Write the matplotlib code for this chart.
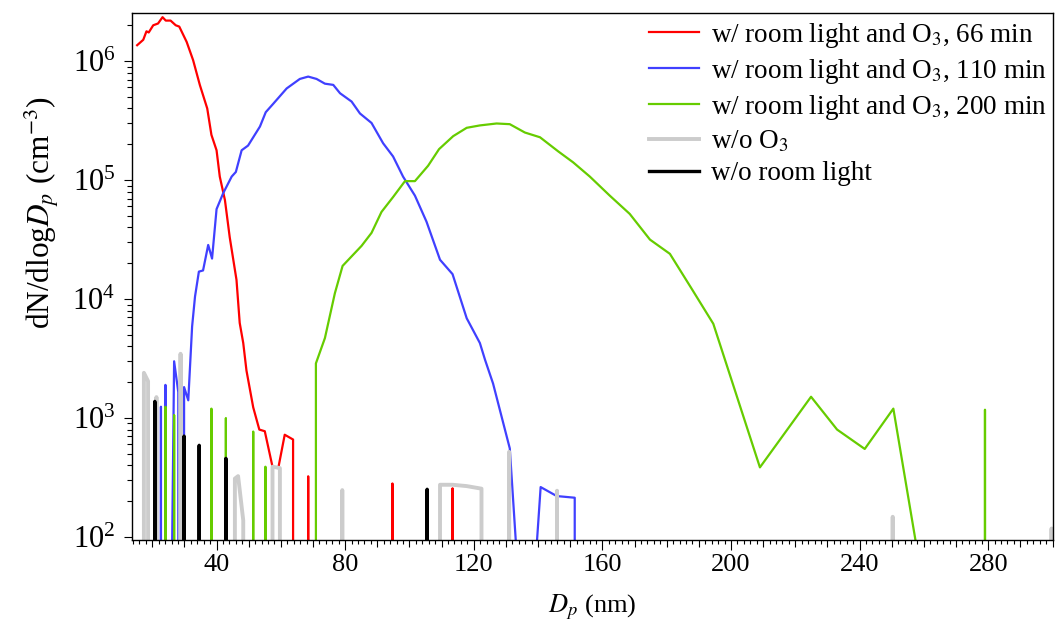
import matplotlib
matplotlib.use("Agg")

import matplotlib.pyplot as plt
import matplotlib.ticker as ticker

plt.rcParams["font.family"] = "Liberation Serif"
plt.rcParams["mathtext.fontset"] = "stix"

# size distributions, dN/dlogDp in cm^-3 (0 = no counts in that bin)
red_dp = [15.3, 17.2, 18.2, 18.9, 20.3, 21.8, 23.2, 24.2, 25.7, 27.3, 28.4, 30.7,
          32.7, 34.8, 37.1, 38.4, 40.0, 41.0, 42.6, 44.1, 46.2, 47.2, 48.3, 49.3,
          51.4, 53.3, 55.0, 57.4, 59.2, 61.2, 63.8, 64.6, 67.6, 68.5, 69.4,
          93.8, 94.7, 95.6, 112.5, 113.4, 114.3]
red_n = [1.36e6, 1.51e6, 1.78e6, 1.74e6, 2.0e6, 2.07e6, 2.34e6, 2.19e6, 2.19e6,
         2.0e6, 1.95e6, 1.45e6, 1.02e6, 6.3e5, 4.0e5, 2.4e5, 1.78e5, 1.07e5,
         6.8e4, 3.3e4, 1.45e4, 6300, 4270, 2510, 1230, 800, 775, 390, 380, 724,
         660, 0, 0, 324, 0, 0, 282, 0, 0, 257, 0]

blue_dp = [22.0, 22.7, 23.4, 24.1, 25.0, 26.0, 26.8, 28.1, 29.0, 29.9, 31.2, 32.4,
           33.3, 34.5, 35.8, 37.4, 38.6, 40.0, 42.1, 44.7, 46.0, 47.8, 49.8, 53.5,
           55.3, 57.6, 61.8, 65.9, 68.5, 71.1, 73.7, 76.3, 78.4, 82.0, 84.6, 88.2,
           91.8, 94.9, 98.0, 101.7, 105.3, 109.5, 113.4, 117.8, 121.9, 123.5,
           126.0, 131.2, 133.1, 139.5, 140.8, 145.8, 151.4, 152.3]
blue_n = [0, 1245, 0, 1900, 0, 30, 3000, 1650, 0, 1820, 1410, 5900, 10500, 17000,
          17400, 28500, 21900, 57000, 78000, 107000, 117000, 178000, 195000,
          282000, 372000, 437000, 589000, 708000, 741000, 708000, 646000, 631000,
          537000, 457000, 363000, 302000, 204000, 158000, 107000, 74000, 44700,
          21400, 16200, 6900, 4270, 3090, 1950, 556, 90, 80, 263, 221, 214, 0]

green_dp = [23.3, 24.1, 24.9, 26.0, 26.8, 27.6, 37.6, 38.4, 39.2, 42.1, 42.9, 43.7,
            50.6, 51.4, 52.2, 54.4, 55.2, 56.0, 70.1, 70.9, 73.7, 76.8, 79.2, 85.1,
            88.2, 91.3, 94.9, 98.6, 101.7, 105.8, 109.2, 113.6, 117.8, 121.9, 127.1,
            131.2, 135.9, 140.6, 146.3, 150.9, 156.1, 162.3, 168.5, 174.8, 181.0,
            187.7, 194.5, 209.0, 224.9, 233.0, 241.6, 250.5, 257.5, 258.5, 278.2,
            279.0, 279.8]
green_n = [0, 1245, 0, 0, 1060, 0, 0, 1200, 0, 0, 1000, 0, 0, 770, 0, 0, 390, 0,
           0, 2880, 4700, 11200, 19000, 28000, 36000, 54000, 72000, 98000, 98000,
           132000, 182000, 234000, 275000, 288000, 299000, 295000, 251000, 229000,
           174000, 141000, 107000, 74000, 52000, 31600, 24000, 12300, 6200, 385,
           1510, 800, 550, 1200, 90, 0, 0, 1175, 0]

gray_dp = [16.6, 17.4, 18.7, 19.5, 20.6, 21.3, 22.0, 28.0, 28.8, 29.6, 45.0, 45.7,
           46.7, 48.3, 49.0, 56.6, 57.4, 59.7, 60.4, 78.3, 79.1, 79.9, 108.8, 109.5,
           113.4, 117.8, 122.4, 123.1, 130.2, 131.0, 131.8, 145.1, 145.9, 146.7,
           249.5, 250.3, 251.1, 298.9, 299.7, 300.5]
gray_n = [0, 2400, 2040, 0, 0, 1500, 0, 0, 3470, 0, 0, 310, 325, 138, 0, 0, 390,
          380, 0, 0, 248, 0, 0, 275, 275, 268, 255, 0, 0, 520, 0, 0, 245, 0, 0,
          148, 0, 0, 118, 0]

black_dp = [20.0, 20.8, 21.6, 29.1, 29.9, 30.7, 33.8, 34.6, 35.4, 42.1, 42.9, 43.7,
            104.7, 105.5, 106.3]
black_n = [0, 1380, 0, 0, 705, 0, 0, 590, 0, 0, 458, 0, 0, 252, 0]

labels = [
    "w/ room light and O$_3$, 66 min",
    "w/ room light and O$_3$, 110 min",
    "w/ room light and O$_3$, 200 min",
    "w/o O$_3$",
    "w/o room light",
]

fig = plt.figure(figsize=(10.56, 6.23), dpi=100)
ax = fig.add_axes([0.125, 0.1332, 0.8726, 0.8467])
ax.set_yscale("log", nonpositive="clip")

ax.plot(red_dp, red_n, color="#ff0000", lw=1.6, label=labels[0])
ax.plot(blue_dp, blue_n, color="#4040ff", lw=1.6, label=labels[1])
ax.plot(green_dp, green_n, color="#66cc00", lw=1.6, label=labels[2])
ax.plot(gray_dp, gray_n, color="#cccccc", lw=2.8, label=labels[3])
ax.plot(black_dp, black_n, color="#000000", lw=2.4, label=labels[4])

ax.set_xlim(13.7, 300.3)
ax.set_ylim(94.4, 2.56e6)

# x ticks: labels every 40, medium ticks every 10, small every 2
ax.xaxis.set_major_locator(ticker.MultipleLocator(10))
ax.xaxis.set_minor_locator(ticker.MultipleLocator(2))
ax.xaxis.set_major_formatter(
    ticker.FuncFormatter(lambda v, p: f"{v:.0f}" if round(v) % 40 == 0 else ""))
ax.yaxis.set_major_locator(ticker.LogLocator(base=10))
ax.yaxis.set_minor_locator(ticker.LogLocator(base=10, subs=range(2, 10)))

ax.tick_params(axis="both", which="both", direction="out", top=False, right=False,
               width=0.8)
ax.tick_params(axis="x", which="major", length=5, pad=5, labelsize=19)
ax.tick_params(axis="x", which="minor", length=3)
ax.tick_params(axis="y", which="major", length=6, pad=6, labelsize=22)
ax.tick_params(axis="y", which="minor", length=3.5)
for loc, tick in zip(ax.xaxis.get_majorticklocs(), ax.xaxis.get_major_ticks()):
    if round(loc) % 40 == 0:
        tick.tick1line.set_markersize(7.5)

for s in ax.spines.values():
    s.set_linewidth(1.0)

ax.set_xlabel("$D_p$ (nm)", fontsize=19, labelpad=12)
ax.set_ylabel("dN/dlog$D_p$ (cm$^{-3}$)", fontsize=22.5)
ax.yaxis.set_label_coords(-0.076, 0.62)

ax.legend(loc="upper left", bbox_to_anchor=(0.555, 0.995), frameon=False,
          fontsize=19.5, handlelength=1.85, handletextpad=0.45, labelspacing=0.26,
          borderpad=0.2, borderaxespad=0.0)

fig.savefig("out.png", dpi=100)
plt.close(fig)
